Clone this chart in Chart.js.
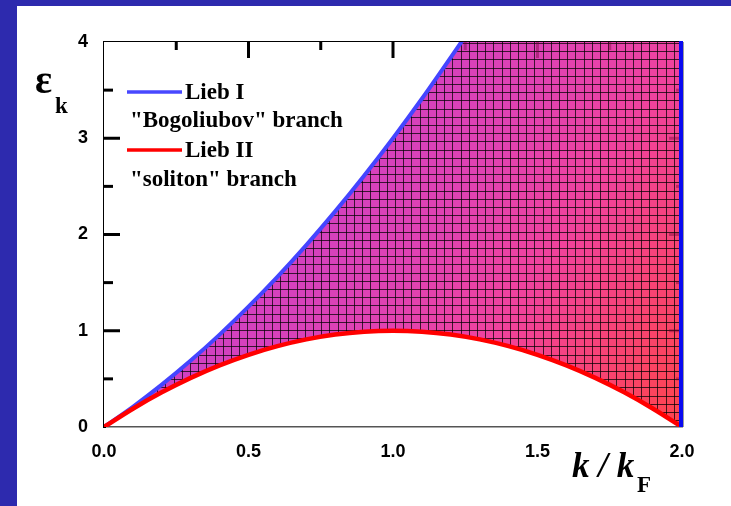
<!DOCTYPE html>
<html lang="en">
<head>
<meta charset="utf-8">
<title>Lieb I / Lieb II excitation branches</title>
<script src="https://cdn.jsdelivr.net/npm/chart.js@4.4.1/dist/chart.umd.min.js"></script>
<style>
  html, body { margin: 0; padding: 0; width: 731px; height: 506px; overflow: hidden; background: #2d2aae; }
  .panel { position: absolute; left: 17px; top: 6px; width: 714px; height: 500px; background: #fff; }
  canvas { display: block; }
</style>
</head>
<body>
<div class="panel"><canvas id="spectrum" width="714" height="500"></canvas></div>
<script>
// k / kF sample points and the two branches
const kLiebI  = [0, 0.1, 0.2, 0.3, 0.4, 0.5, 0.6, 0.7, 0.8, 0.9, 1.0, 1.1, 1.2, 1.25];
const liebI   = [0, 0.21, 0.44, 0.69, 0.96, 1.25, 1.56, 1.89, 2.24, 2.61, 3.00, 3.41, 3.84, 4.06];
const kLiebII = [0, 0.1, 0.2, 0.3, 0.4, 0.5, 0.6, 0.7, 0.8, 0.9, 1.0, 1.1, 1.2, 1.3, 1.4, 1.5, 1.6, 1.7, 1.8, 1.9, 2.0];
const liebII  = [0, 0.19, 0.36, 0.51, 0.64, 0.75, 0.84, 0.91, 0.96, 0.99, 1.00, 0.99, 0.96, 0.91, 0.84, 0.75, 0.64, 0.51, 0.36, 0.19, 0];

const xTickLabels = [0, 0.5, 1.0, 1.5, 2.0];
const yTickLabels = [0, 1, 2, 3, 4];
const xTopTicks   = [0.25, 0.5, 0.75, 1.0, 1.25, 1.5, 1.75];
const ySideTicks  = [0.5, 1, 1.5, 2, 2.5, 3, 3.5];

function pts(xs, ys) {
  return xs.map((x, i) => ({ x: x, y: ys[i] }));
}

// gradient + square hatching for the continuum between the branches
let hatchCache = null;
function hatchFill(context) {
  const chart = context.chart;
  const area = chart.chartArea;
  if (!area) return 'rgba(0,0,0,0)';
  const key = [area.left, area.top, area.right, area.bottom].join(',');
  if (hatchCache && hatchCache.key === key) return hatchCache.pattern;

  const off = document.createElement('canvas');
  off.width = chart.width;
  off.height = chart.height;
  const g = off.getContext('2d');
  const grad = g.createLinearGradient(area.left, area.top, area.right, area.bottom);
  grad.addColorStop(0, '#b83ad6');
  grad.addColorStop(0.3, '#cc40c6');
  grad.addColorStop(0.55, '#e042b2');
  grad.addColorStop(0.7, '#f0429e');
  grad.addColorStop(1, '#ff444c');
  g.fillStyle = grad;
  g.fillRect(area.left, area.top, area.right - area.left, area.bottom - area.top);

  const step = 8.2;
  g.strokeStyle = 'rgba(0,0,0,0.72)';
  g.lineWidth = 1;
  g.beginPath();
  for (let x = area.right - step; x > area.left; x -= step) {
    g.moveTo(Math.round(x) + 0.5, area.top);
    g.lineTo(Math.round(x) + 0.5, area.bottom);
  }
  for (let y = area.top + 1; y < area.bottom; y += step) {
    g.moveTo(area.left, Math.round(y) + 0.5);
    g.lineTo(area.right, Math.round(y) + 0.5);
  }
  g.stroke();

  hatchCache = { key: key, pattern: chart.ctx.createPattern(off, 'no-repeat') };
  return hatchCache.pattern;
}

// inward ticks, right frame, legend and axis titles
const decorations = {
  id: 'decorations',
  afterDatasetsDraw(chart) {
    const ctx = chart.ctx;
    const a = chart.chartArea;
    const xs = chart.scales.x;
    const ys = chart.scales.y;
    ctx.save();
    ctx.lineWidth = 3;
    ctx.lineCap = 'butt';

    xTopTicks.forEach(v => {
      const px = xs.getPixelForValue(v);
      const len = (v * 2) % 1 === 0 ? 16 : 8;
      ctx.strokeStyle = v < 1.22 ? '#000' : 'rgba(110,0,50,0.4)';
      ctx.beginPath();
      ctx.moveTo(px, a.top);
      ctx.lineTo(px, a.top + len);
      ctx.stroke();
    });
    ySideTicks.forEach(v => {
      const py = ys.getPixelForValue(v);
      const len = v % 1 === 0 ? 16 : 9;
      ctx.strokeStyle = '#000';
      ctx.beginPath();
      ctx.moveTo(a.left, py);
      ctx.lineTo(a.left + len, py);
      ctx.stroke();
      ctx.strokeStyle = 'rgba(110,0,50,0.4)';
      ctx.beginPath();
      ctx.moveTo(a.right, py);
      ctx.lineTo(a.right - (v % 1 === 0 ? 13 : 6), py);
      ctx.stroke();
    });

    // right frame edge in blue
    ctx.strokeStyle = '#0a0af0';
    ctx.lineWidth = 4;
    ctx.beginPath();
    ctx.moveTo(a.right - 1, a.top - 1);
    ctx.lineTo(a.right - 1, a.bottom);
    ctx.stroke();
    ctx.strokeStyle = 'rgba(90,90,90,0.6)';
    ctx.lineWidth = 1;
    ctx.beginPath();
    ctx.moveTo(a.right + 1.5, a.top);
    ctx.lineTo(a.right + 1.5, a.bottom);
    ctx.stroke();

    // legend
    ctx.lineWidth = 3.5;
    ctx.strokeStyle = '#4848ff';
    ctx.beginPath(); ctx.moveTo(110, 86); ctx.lineTo(165, 86); ctx.stroke();
    ctx.strokeStyle = '#ff0000';
    ctx.beginPath(); ctx.moveTo(110, 144); ctx.lineTo(165, 144); ctx.stroke();

    ctx.fillStyle = '#000';
    ctx.textBaseline = 'alphabetic';
    ctx.textAlign = 'left';
    ctx.font = 'bold 23px "Liberation Serif", "Times New Roman", serif';
    ctx.fillText('Lieb I', 168, 93);
    ctx.fillText('"Bogoliubov" branch', 113, 121);
    ctx.fillText('Lieb II', 168, 151);
    ctx.fillText('"soliton" branch', 113, 180);

    // axis titles
    ctx.font = 'bold 40px "Liberation Serif", "Times New Roman", serif';
    ctx.fillText('\u03b5', 18, 87);
    ctx.font = 'bold 23px "Liberation Serif", "Times New Roman", serif';
    ctx.fillText('k', 38, 107);

    ctx.font = 'italic bold 35px "Liberation Serif", "Times New Roman", serif';
    ctx.fillText('k / k', 555, 471);
    ctx.font = 'bold 23px "Liberation Serif", "Times New Roman", serif';
    ctx.fillText('F', 620, 486);
    ctx.restore();
  }
};

const tickFont = { family: '"Liberation Sans", Arial, sans-serif', size: 18, weight: 'bold' };
const hiddenGrid = { display: true, drawOnChartArea: false, drawTicks: false };

new Chart(document.getElementById('spectrum'), {
  type: 'line',
  data: {
    datasets: [
      {
        // white cover above Lieb I
        data: pts(kLiebI, liebI),
        borderWidth: 0,
        pointRadius: 0,
        cubicInterpolationMode: 'monotone',
        fill: 'end',
        backgroundColor: '#ffffff'
      },
      {
        label: 'Lieb II',
        data: pts(kLiebII, liebII),
        borderColor: '#ff0000',
        borderWidth: 4.5,
        pointRadius: 0,
        cubicInterpolationMode: 'monotone',
        fill: 'end',
        backgroundColor: hatchFill
      },
      {
        label: 'Lieb I',
        data: pts(kLiebI, liebI),
        borderColor: '#4444ff',
        borderWidth: 4,
        pointRadius: 0,
        cubicInterpolationMode: 'monotone',
        fill: false
      }
    ]
  },
  options: {
    responsive: false,
    animation: false,
    parsing: false,
    layout: { padding: 0 },
    plugins: {
      legend: { display: false },
      tooltip: { enabled: false },
      filler: { drawTime: 'beforeDatasetsDraw' }
    },
    scales: {
      x: {
        type: 'linear', position: 'bottom', min: 0, max: 2,
        afterFit: s => { s.height = 79; },
        afterBuildTicks: s => { s.ticks = xTickLabels.map(v => ({ value: v })); },
        ticks: { font: tickFont, color: '#000', padding: 14, maxRotation: 0, callback: v => v.toFixed(1) },
        grid: hiddenGrid,
        border: { color: '#555', width: 1.5 }
      },
      xTop: {
        type: 'linear', position: 'top', min: 0, max: 2, z: 1,
        afterFit: s => { s.height = 36; },
        ticks: { display: false },
        grid: hiddenGrid,
        border: { color: '#000', width: 3 }
      },
      y: {
        type: 'linear', position: 'left', min: 0, max: 4, z: 1,
        afterFit: s => { s.width = 87; },
        afterBuildTicks: s => { s.ticks = yTickLabels.map(v => ({ value: v })); },
        ticks: { font: tickFont, color: '#000', padding: 16 },
        grid: hiddenGrid,
        border: { color: '#000', width: 3 }
      },
      yRight: {
        type: 'linear', position: 'right', min: 0, max: 4,
        afterFit: s => { s.width = 49; },
        ticks: { display: false },
        grid: { display: false },
        border: { display: false }
      }
    }
  },
  plugins: [decorations]
});
</script>
</body>
</html>
